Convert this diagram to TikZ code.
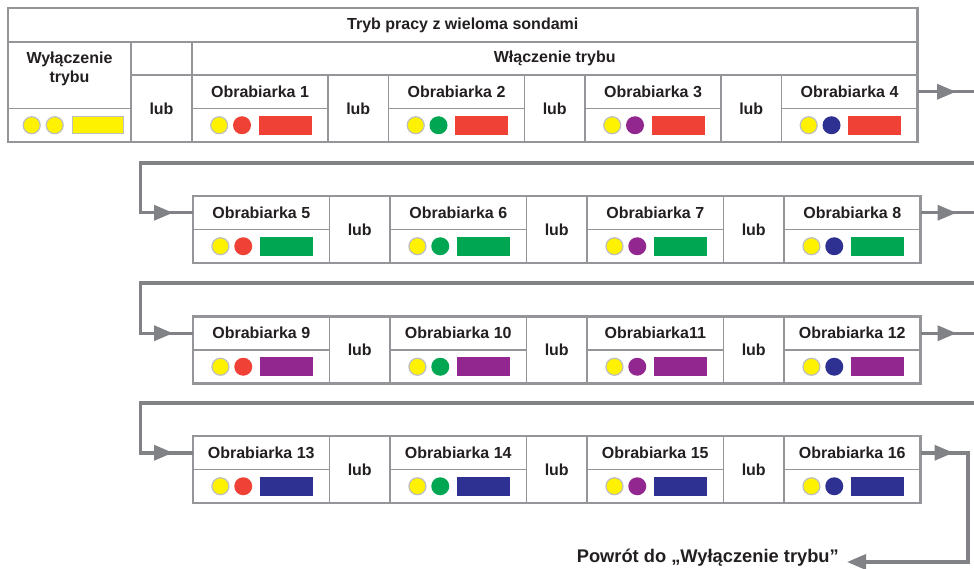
\documentclass[tikz,border=0pt]{standalone}
\usepackage{fontspec}
\setmainfont{Liberation Sans}
\usetikzlibrary{arrows.meta,decorations.markings}
\definecolor{lineg}{HTML}{939598}
\definecolor{conng}{HTML}{808285}
\definecolor{txtc}{HTML}{231F20}
\definecolor{yel}{HTML}{FFF200}
\definecolor{ring}{HTML}{BCBEC0}
\definecolor{redc}{HTML}{EF4136}
\definecolor{grnc}{HTML}{00A651}
\definecolor{purc}{HTML}{92278F}
\definecolor{navc}{HTML}{2E3192}
\tikzset{
  txt/.style={font=\fontsize{16}{18.8}\selectfont\bfseries, text=txtc, align=center, inner sep=0pt},
  cellbox/.style={txt, draw=lineg, line width=1.5pt, rectangle, outer sep=0pt},
  outerbox/.style={draw=lineg, line width=2.5pt},
  dot/.style={circle, minimum size=18pt, inner sep=0pt, outer sep=0pt},
  ydot/.style={dot, fill=yel, draw=ring, line width=1.2pt, minimum size=17pt},
  bar/.style={rectangle, minimum width=53pt, minimum height=19pt, inner sep=0pt, outer sep=0pt},
  conn/.style={color=conng, line width=3.5pt},
  headtip/.tip={Triangle[length=19pt,width=15pt]},
  twomarks/.style 2 args={postaction={decorate, decoration={markings,
      mark=at position #1 with {\arrow[conng]{headtip}},
      mark=at position #2 with {\arrow[conng]{headtip}}}}},
  onemark/.style={postaction={decorate, decoration={markings,
      mark=at position #1 with {\arrow[conng]{headtip}}}}}
}
% #1 name, #2 x, #3 y, #4 width, #5 label, #6 dot colour, #7 bar colour
\newcommand\machinecell[7]{%
  \node[cellbox, minimum width=#4, minimum height=33.5pt, anchor=north west] (#1) at (#2,#3) {#5};
  \node[cellbox, minimum width=#4, minimum height=33.5pt, anchor=north] (#1c) at (#1.south) {};
  \node[ydot] (#1y) at ([xshift=-40.8pt]#1c.center) {};
  \node[dot, fill=#6] (#1d) at ([xshift=-18pt]#1c.center) {};
  \node[bar, fill=#7] (#1b) at ([xshift=25pt]#1c.center) {};
}
% #1 name, #2 x, #3 y, #4 width
\newcommand\lubcell[4]{%
  \node[cellbox, minimum width=#4, minimum height=67pt, anchor=north west] (#1) at (#2,#3) {lub};
}
\begin{document}
\begin{tikzpicture}[x=1pt, y=-1pt]
\useasboundingbox (0,0) rectangle (974,569);
\clip (0,0) rectangle (974,569);

% ---------- row 1 with header ----------
\node[cellbox, minimum width=909.5pt, minimum height=34pt, anchor=north west] (title) at (8,8) {Tryb pracy z wieloma sondami};
\node[cellbox, minimum width=123pt, minimum height=66.5pt, anchor=north west] (off) at (8,42) {};
\node[txt] (offt) at (69.5,69) {Wyłączenie\\trybu};
\node[cellbox, minimum width=123pt, minimum height=33.5pt, anchor=north] (offc) at (off.south) {};
\node[ydot] (offy1) at ([xshift=-37.8pt]offc.center) {};
\node[ydot] (offy2) at ([xshift=-14.8pt]offc.center) {};
\node[bar, fill=yel, draw=ring, line width=1.2pt, minimum width=51pt, minimum height=17pt] (offb) at ([xshift=28.3pt]offc.center) {};
\node[cellbox, minimum width=61pt, minimum height=33pt, anchor=north west] (gap) at (131,42) {};
\node[cellbox, minimum width=725.5pt, minimum height=33pt, anchor=north west] (on) at (192,42) {Włączenie trybu};
\lubcell{l0}{131}{75}{61pt}

\machinecell{o1}{192}{75}{136pt}{Obrabiarka 1}{redc}{redc}
\lubcell{l1}{328}{75}{60.5pt}
\machinecell{o2}{388.5}{75}{136pt}{Obrabiarka 2}{grnc}{redc}
\lubcell{l2}{524.5}{75}{60.5pt}
\machinecell{o3}{585}{75}{136pt}{Obrabiarka 3}{purc}{redc}
\lubcell{l3}{721}{75}{60.5pt}
\machinecell{o4}{781.5}{75}{136pt}{Obrabiarka 4}{navc}{redc}
\draw[outerbox] (title.north west) rectangle (o4c.south east);

% ---------- row 2 ----------
\machinecell{o5}{193}{196}{136.5pt}{Obrabiarka 5}{redc}{grnc}
\lubcell{l5}{329.5}{196}{60.5pt}
\machinecell{o6}{390}{196}{136.5pt}{Obrabiarka 6}{grnc}{grnc}
\lubcell{l6}{526.5}{196}{60.5pt}
\machinecell{o7}{587}{196}{136.5pt}{Obrabiarka 7}{purc}{grnc}
\lubcell{l7}{723.5}{196}{60.5pt}
\machinecell{o8}{784}{196}{136.5pt}{Obrabiarka 8}{navc}{grnc}
\draw[outerbox] (o5.north west) rectangle (o8c.south east);

% ---------- row 3 ----------
\machinecell{o9}{193}{316.5}{136.5pt}{Obrabiarka 9}{redc}{purc}
\lubcell{l9}{329.5}{316.5}{60.5pt}
\machinecell{o10}{390}{316.5}{136.5pt}{Obrabiarka 10}{grnc}{purc}
\lubcell{l10}{526.5}{316.5}{60.5pt}
\machinecell{o11}{587}{316.5}{136.5pt}{Obrabiarka11}{purc}{purc}
\lubcell{l11}{723.5}{316.5}{60.5pt}
\machinecell{o12}{784}{316.5}{136.5pt}{Obrabiarka 12}{navc}{purc}
\draw[outerbox] (o9.north west) rectangle (o12c.south east);

% ---------- row 4 ----------
\machinecell{o13}{193}{436}{136.5pt}{Obrabiarka 13}{redc}{navc}
\lubcell{l13}{329.5}{436}{60.5pt}
\machinecell{o14}{390}{436}{136.5pt}{Obrabiarka 14}{grnc}{navc}
\lubcell{l14}{526.5}{436}{60.5pt}
\machinecell{o15}{587}{436}{136.5pt}{Obrabiarka 15}{purc}{navc}
\lubcell{l15}{723.5}{436}{60.5pt}
\machinecell{o16}{784}{436}{136.5pt}{Obrabiarka 16}{navc}{navc}
\draw[outerbox] (o13.north west) rectangle (o16c.south east);

% ---------- connectors ----------
\draw[conn, twomarks={38.5pt}{-20pt}] (o4.east) -| (992,163) -- (140.5,163) |- (o5.west);
\draw[conn, twomarks={36pt}{-20pt}] (o8.east) -| (992,283) -- (140.5,283) |- (o9.west);
\draw[conn, twomarks={36pt}{-20pt}] (o12.east) -| (992,403) -- (140.5,403) |- (o13.west);

\node[txt, font=\fontsize{18.3}{21}\selectfont\bfseries, anchor=east] (ret) at (839,557.5) {Powrót do „Wyłączenie trybu”};
\coordinate (back) at (847,562);
\draw[conn, onemark=33pt, -{headtip}] (o16.east) -| (968,562) -- (back);
\end{tikzpicture}
\end{document}
